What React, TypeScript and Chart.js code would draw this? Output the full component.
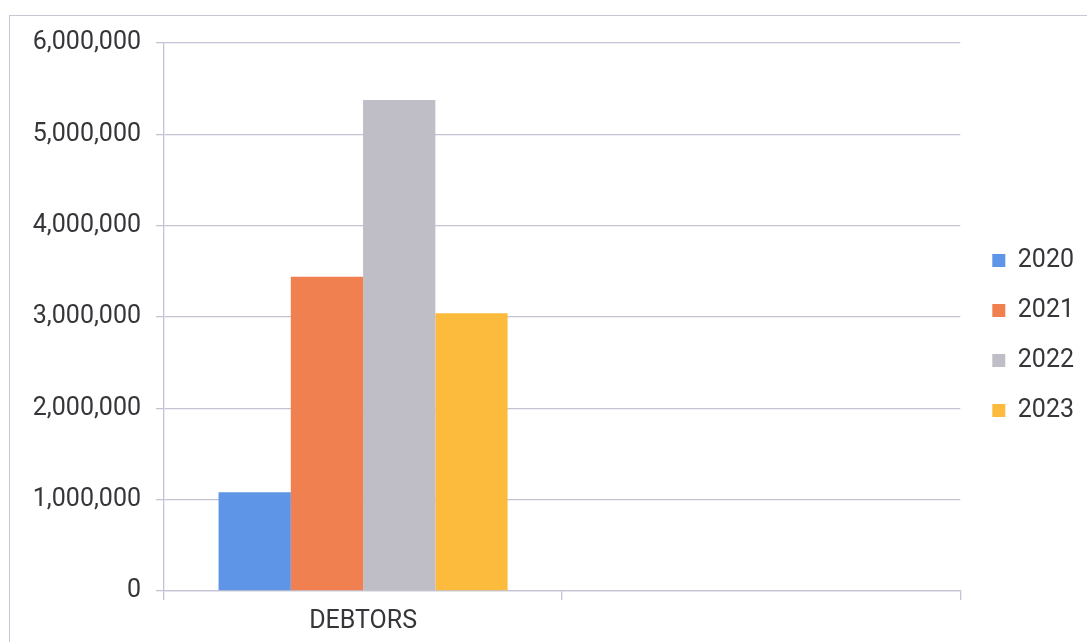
import React, { useEffect, useRef } from "react";
import { Chart, registerables } from "chart.js";

Chart.register(...registerables);

// Categories on the x axis (the second slot is intentionally blank)
const categories: string[] = ["DEBTORS", ""];

// Series: one per year
const seriesLabels: string[] = ["2020", "2021", "2022", "2023"];
const values2020: number[] = [1080000, 0];
const values2021: number[] = [3440000, 0];
const values2022: number[] = [5376000, 0];
const values2023: number[] = [3040000, 0];
const seriesColors: string[] = ["#5f95e6", "#f0804f", "#bfbec6", "#fdbb3d"];

// Value axis
const yMin = 0;
const yMax = 6000000;
const yStep = 1000000;

const FONT = "Roboto, 'Noto Sans', sans-serif";
const FONT_SIZE = 25;
const TEXT_COLOR = "#36363a";
const GRID_COLOR = "#c3c3d3";

// Empty scale used only to reserve room in the layout
const spacerScale = (size: number, position: "top" | "right") => ({
  type: "linear" as const,
  position,
  display: true,
  grid: { display: false, drawTicks: false },
  border: { display: false },
  ticks: { display: false },
  afterFit: (scale: any) => {
    if (position === "top") scale.height = size;
    else scale.width = size;
  },
});

export default function App() {
  const canvasRef = useRef<HTMLCanvasElement | null>(null);

  useEffect(() => {
    const canvas = canvasRef.current;
    if (!canvas) return;
    const seriesValues = [values2020, values2021, values2022, values2023];
    const chart = new Chart(canvas, {
      type: "bar",
      data: {
        labels: categories,
        datasets: seriesLabels.map((label, i) => ({
          label,
          data: seriesValues[i],
          backgroundColor: seriesColors[i],
          borderWidth: 0,
          categoryPercentage: 0.726,
          barPercentage: 1,
          xAxisID: "x",
          yAxisID: "y",
        })),
      },
      options: {
        animation: false,
        responsive: false,
        maintainAspectRatio: false,
        devicePixelRatio: 1,
        layout: {
          padding: { top: 29, left: 0, right: 3, bottom: 0 },
        },
        plugins: {
          tooltip: { enabled: false },
          legend: {
            display: true,
            position: "right",
            align: "center",
            labels: {
              boxWidth: 13,
              boxHeight: 13,
              padding: 25,
              color: TEXT_COLOR,
              font: { family: FONT, size: FONT_SIZE },
            },
          },
        },
        scales: {
          x: {
            type: "category",
            position: "bottom",
            offset: true,
            grid: {
              display: true,
              offset: true,
              drawOnChartArea: false,
              drawTicks: true,
              tickLength: 9,
              color: GRID_COLOR,
              lineWidth: 1.3,
            },
            border: { display: true, color: GRID_COLOR, width: 1.3 },
            ticks: {
              color: TEXT_COLOR,
              padding: 7,
              font: { family: FONT, size: FONT_SIZE },
              maxRotation: 0,
              autoSkip: false,
            },
            afterFit: (scale: any) => {
              scale.height = 51;
            },
          },
          y: {
            type: "linear",
            position: "left",
            min: yMin,
            max: yMax,
            grid: {
              display: true,
              drawTicks: true,
              tickLength: 8,
              color: GRID_COLOR,
              lineWidth: 1.3,
            },
            border: { display: true, color: GRID_COLOR, width: 1.3 },
            ticks: {
              stepSize: yStep,
              color: TEXT_COLOR,
              padding: 15,
              font: { family: FONT, size: FONT_SIZE },
              callback: (v: any) => Number(v).toLocaleString("en-US"),
            },
            afterFit: (scale: any) => {
              scale.width = 164;
            },
          },
          topSpacer: spacerScale(14, "top"),
          rightSpacer: spacerScale(7, "right"),
        },
      },
    });
    return () => chart.destroy();
  }, []);

  return (
    <div
      style={{
        position: "fixed",
        left: 0,
        top: 0,
        width: 1087,
        height: 642,
        overflow: "hidden",
        background: "#ffffff",
      }}
    >
      <div
        style={{
          position: "absolute",
          left: 9,
          top: 15,
          width: 1200,
          height: 800,
          borderTop: "1.5px solid #c6c6d6",
          borderLeft: "1.5px solid #c6c6d6",
        }}
      />
      <canvas
        ref={canvasRef}
        width={1087}
        height={642}
        style={{ position: "absolute", left: 0, top: 0, width: 1087, height: 642 }}
      />
    </div>
  );
}
